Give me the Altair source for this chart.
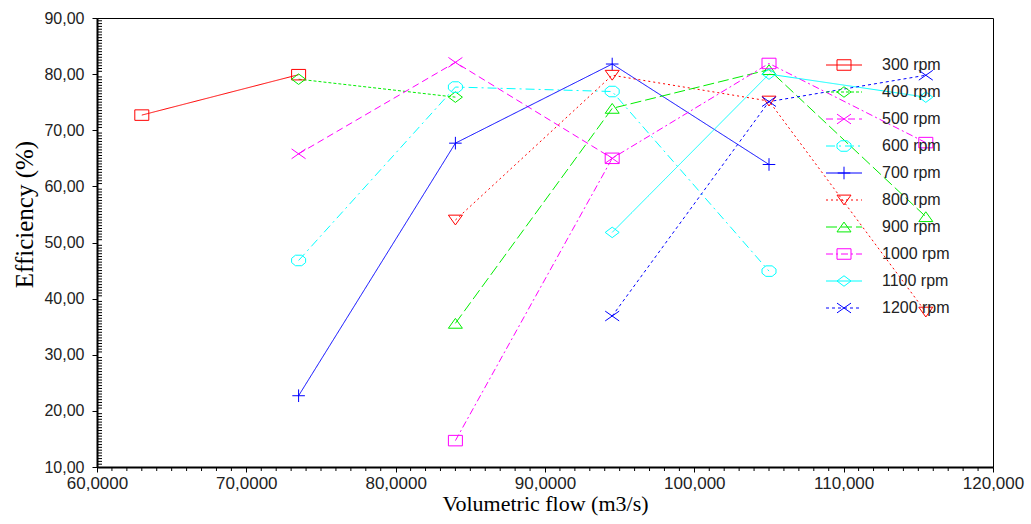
import altair as alt
import pandas as pd

# ---- data ----
series = ["300 rpm", "400 rpm", "500 rpm", "600 rpm", "700 rpm",
          "800 rpm", "900 rpm", "1000 rpm", "1100 rpm", "1200 rpm"]

flow_300 = [63.0, 73.5]
eff_300 = [72.7, 79.9]
flow_400 = [73.5, 84.0]
eff_400 = [79.1, 75.9]
flow_500 = [73.5, 84.0, 94.5]
eff_500 = [65.8, 82.1, 65.0]
flow_600 = [73.5, 84.0, 94.5, 105.0]
eff_600 = [46.8, 77.7, 76.9, 44.9]
flow_700 = [73.5, 84.0, 94.5, 105.0]
eff_700 = [22.7, 67.7, 81.8, 63.9]
flow_800 = [84.0, 94.5, 105.0, 115.5]
eff_800 = [54.0, 79.8, 75.2, 37.6]
flow_900 = [84.0, 94.5, 105.0, 115.5]
eff_900 = [35.6, 73.9, 80.8, 54.6]
flow_1000 = [84.0, 94.5, 105.0, 115.5]
eff_1000 = [14.7, 65.0, 81.9, 67.8]
flow_1100 = [94.5, 105.0, 115.5]
eff_1100 = [51.8, 80.0, 75.9]
flow_1200 = [94.5, 105.0, 115.5]
eff_1200 = [36.9, 75.1, 79.8]

flows = [flow_300, flow_400, flow_500, flow_600, flow_700,
         flow_800, flow_900, flow_1000, flow_1100, flow_1200]
effs = [eff_300, eff_400, eff_500, eff_600, eff_700,
        eff_800, eff_900, eff_1000, eff_1100, eff_1200]

x_ticks = [60, 70, 80, 90, 100, 110, 120]
y_ticks = [10, 20, 30, 40, 50, 60, 70, 80, 90]
x_minor = [v for v in range(60, 121) if v % 10 != 0]
y_minor = [10 + 0.5 * i for i in range(161) if (10 + 0.5 * i) % 10 != 0]

# ---- styles ----
colors = ["#FF0000", "#00EE00", "#FF00FF", "#00FFFF", "#0000FF",
          "#FF0000", "#00EE00", "#FF00FF", "#00FFFF", "#0000FF"]
dashes = [[1, 0], [3, 2], [7, 4], [9, 4, 2, 4], [1, 0],
          [2, 3], [11, 4], [7, 3, 2, 3], [1, 0], [3, 3]]
sq = "M-1,-0.75H1V0.75H-1Z"
dia = "M-1,0L0,-0.75L1,0L0,0.75Z"
xx = "M-1,-0.7L1,0.7M-1,0.7L1,-0.7"
octo = "M-0.45,-0.75H0.45L1,-0.3V0.3L0.45,0.75H-0.45L-1,0.3V-0.3Z"
plus = "M-0.9,0H0.9M0,-0.9V0.9"
tri_dn = "M-1,-0.7H1L0,0.7Z"
tri_up = "M-1,0.7H1L0,-0.7Z"
shapes = [sq, dia, xx, octo, plus, tri_dn, tri_up, sq, dia, xx]

rows = []
for name, fl, ef in zip(series, flows, effs):
    for f, e in zip(fl, ef):
        rows.append({"rpm": name, "flow": f, "eff": e})
df = pd.DataFrame(rows)
legend_df = pd.DataFrame({"rpm": series})
xminor_df = pd.DataFrame({"v": x_minor})
yminor_df = pd.DataFrame({"v": y_minor})

color_scale = alt.Scale(domain=series, range=colors)
dash_scale = alt.Scale(domain=series, range=dashes)
shape_scale = alt.Scale(domain=series, range=shapes)

X = alt.X("flow:Q", scale=alt.Scale(domain=[60, 120], nice=False, zero=False),
          axis=alt.Axis(values=x_ticks, title="Volumetric flow (m3/s)",
                        labelFlush=False, labelFontSize=17, labelPadding=3,
                        titleFontSize=22, titlePadding=2,
                        labelExpr="replace(format(datum.value, '.6r'), '.', ',')"))
Y = alt.Y("eff:Q", scale=alt.Scale(domain=[10, 90], nice=False, zero=False),
          axis=alt.Axis(values=y_ticks, title="Efficiency (%)",
                        labelFlush=False, labelFontSize=16, labelPadding=8,
                        titleFontSize=25, titleX=-60, titleY=196,
                        labelExpr="replace(format(datum.value, '.2f'), '.', ',')"))

lines = alt.Chart(df).mark_line(strokeWidth=1).encode(
    x=X, y=Y,
    color=alt.Color("rpm:N", scale=color_scale, legend=None),
    strokeDash=alt.StrokeDash("rpm:N", scale=dash_scale, legend=None),
)
points = alt.Chart(df).mark_point(filled=False, strokeWidth=1, size=196, opacity=1).encode(
    x="flow:Q", y="eff:Q",
    color=alt.Color("rpm:N", scale=color_scale, legend=None),
    shape=alt.Shape("rpm:N", scale=shape_scale, legend=None),
)
xminor = alt.Chart(xminor_df).mark_rule(color="#000", strokeWidth=1).encode(
    x=alt.X("v:Q"), y=alt.value(449), y2=alt.value(453)
)
yminor = alt.Chart(yminor_df).mark_rule(color="#000", strokeWidth=1).encode(
    y=alt.Y("v:Q"), x=alt.value(0), x2=alt.value(5)
)
main = alt.layer(lines, points, xminor, yminor)

LY = alt.Y("rpm:N", sort=series, axis=None,
           scale=alt.Scale(type="point", range=[47, 290], padding=0))
leg_rules = alt.Chart(legend_df).mark_rule(strokeWidth=1).encode(
    x=alt.value(729), x2=alt.value(765), y=LY,
    color=alt.Color("rpm:N", scale=color_scale, legend=None),
    strokeDash=alt.StrokeDash("rpm:N", scale=dash_scale, legend=None),
)
leg_points = alt.Chart(legend_df).mark_point(filled=False, strokeWidth=1, size=196, opacity=1).encode(
    x=alt.value(747), y=LY,
    color=alt.Color("rpm:N", scale=color_scale, legend=None),
    shape=alt.Shape("rpm:N", scale=shape_scale, legend=None),
)
leg_text = alt.Chart(legend_df).mark_text(
    align="left", baseline="middle", font="Liberation Sans", fontSize=16, color="#222"
).encode(x=alt.value(785), y=LY, text="rpm:N")
legend = alt.layer(leg_rules, leg_points, leg_text)

chart = alt.layer(main, legend).resolve_scale(y="independent").properties(
    width=896, height=449,
    autosize=alt.AutoSizeParams(type="none"),
    padding={"left": 97, "top": 18, "right": 38, "bottom": 57},
    background="white",
).configure_view(stroke="#000", strokeWidth=1).configure_axis(
    grid=False, domainColor="#000", domainWidth=2, tickColor="#000", tickSize=5,
    labelFont="Liberation Sans", labelColor="#222",
    titleFont="Liberation Serif", titleFontWeight="normal", titleColor="#000",
)

chart.save("out.html", embed_options={"renderer": "svg", "actions": False})
